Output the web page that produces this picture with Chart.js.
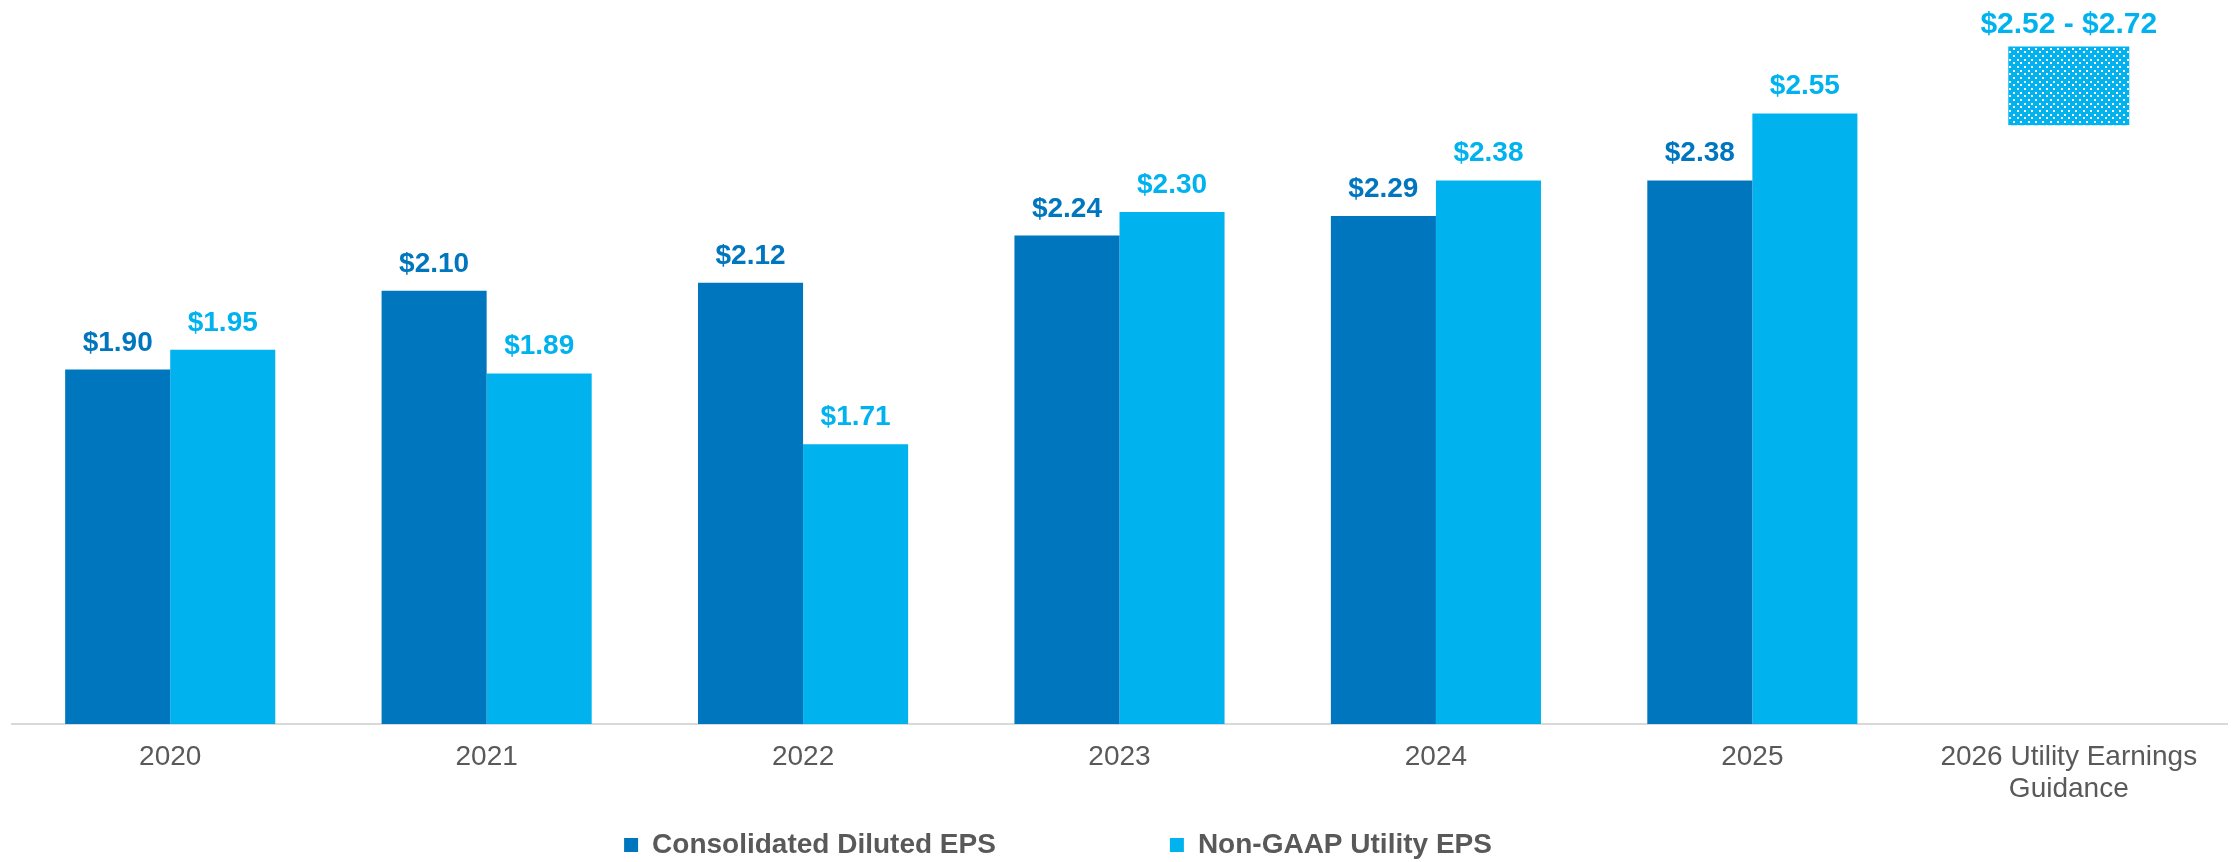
<!DOCTYPE html>
<html><head><meta charset="utf-8">
<script src="https://cdn.jsdelivr.net/npm/chart.js@4.4.1/dist/chart.umd.min.js"></script>
<style>html,body{margin:0;padding:0;background:#fff;overflow:hidden}canvas{display:block}</style>
</head><body>
<canvas id="c" width="2236" height="862"></canvas>
<script>
// ---- data ----
const categories = ['2020', '2021', '2022', '2023', '2024', '2025', ['2026 Utility Earnings', 'Guidance']];
const consolidatedEPS = [1.90, 2.10, 2.12, 2.24, 2.29, 2.38, null];
const nonGaapEPS = [1.95, 1.89, 1.71, 2.30, 2.38, 2.55, null];
const guidanceRange = [null, null, null, null, null, null, [2.52, 2.72]];
const seriesNames = ['Consolidated Diluted EPS', 'Non-GAAP Utility EPS', '2026 Utility Earnings Guidance'];

// ---- styles ----
const DARK = '#0076BF';
const LIGHT = '#00B3EF';
const GRAY = '#595959';
const FONT = "'Liberation Sans', Arial, Helvetica, sans-serif";

function makeDotPattern() {
  const t = document.createElement('canvas');
  t.width = 22; t.height = 22;
  const c = t.getContext('2d');
  c.fillStyle = LIGHT; c.fillRect(0, 0, 22, 22);
  c.fillStyle = '#ffffff';
  const rows = [0, 4, 7, 11, 15, 18];
  rows.forEach((y, r) => {
    const xs = r % 2 === 0 ? [0, 7, 15] : [4, 11, 18];
    xs.forEach(x => c.fillRect(x, y, 2, 2));
  });
  return c.createPattern(t, 'repeat');
}

Chart.defaults.font.family = FONT;

const valueLabels = {
  id: 'valueLabels',
  afterDatasetsDraw(chart) {
    const ctx = chart.ctx;
    ctx.save();
    ctx.textAlign = 'center';
    ctx.textBaseline = 'alphabetic';
    chart.data.datasets.forEach((ds, di) => {
      const meta = chart.getDatasetMeta(di);
      meta.data.forEach((el, i) => {
        const v = ds.data[i];
        if (v == null) return;
        const top = Math.min(el.y, el.base);
        let text, gap, size;
        if (Array.isArray(v)) {
          text = '$' + v[0].toFixed(2) + ' - $' + v[1].toFixed(2);
          gap = 14; size = 30;
        } else {
          text = '$' + v.toFixed(2);
          gap = 19; size = 28;
        }
        ctx.font = 'bold ' + size + 'px ' + FONT;
        ctx.fillStyle = ds.labelColor;
        ctx.fillText(text, el.x, top - gap);
      });
    });
    ctx.restore();
  }
};

const legendPlacer = {
  id: 'legendPlacer',
  afterLayout(chart) {
    const lg = chart.legend;
    if (!lg) return;
    const p = lg.options.labels.padding;
    const itemH = 28;
    lg.top = 845 - itemH / 2 - p;
    lg.bottom = chart.height;
    lg.height = lg.bottom - lg.top;
    const dx = 1058 - (lg.left + lg.right) / 2;
    lg.left += dx; lg.right += dx;
  }
};

new Chart(document.getElementById('c'), {
  type: 'bar',
  data: {
    labels: categories,
    datasets: [
      { label: seriesNames[0], data: consolidatedEPS, backgroundColor: DARK, labelColor: DARK,
        categoryPercentage: 0.664, barPercentage: 1, borderWidth: 0 },
      { label: seriesNames[1], data: nonGaapEPS, backgroundColor: LIGHT, labelColor: LIGHT,
        categoryPercentage: 0.664, barPercentage: 1, borderWidth: 0 },
      { label: seriesNames[2], data: guidanceRange, backgroundColor: makeDotPattern(), labelColor: LIGHT,
        grouped: false, categoryPercentage: 0.3824, barPercentage: 1, borderWidth: 0 }
    ]
  },
  options: {
    responsive: false,
    devicePixelRatio: 1,
    animation: false,
    layout: { padding: { top: 15, left: 12, right: 9, bottom: 18 } },
    scales: {
      x: {
        grid: { display: false, drawTicks: false },
        border: { display: true, color: '#D9D9D9', width: 2 },
        ticks: { color: GRAY, font: { size: 28, lineHeight: 1.125 }, padding: 18, maxRotation: 0, autoSkip: false },
        afterFit(axis) { axis.height = 80; }
      },
      y: { display: false, min: 1.0, max: 2.8 }
    },
    plugins: {
      tooltip: { enabled: false },
      legend: {
        position: 'bottom',
        maxHeight: 40,
        labels: {
          color: GRAY,
          font: { size: 28, weight: 'bold' },
          boxWidth: 14, boxHeight: 14, padding: 174,
          filter: (item) => item.datasetIndex < 2
        }
      }
    }
  },
  plugins: [valueLabels, legendPlacer]
});
</script>
</body></html>
